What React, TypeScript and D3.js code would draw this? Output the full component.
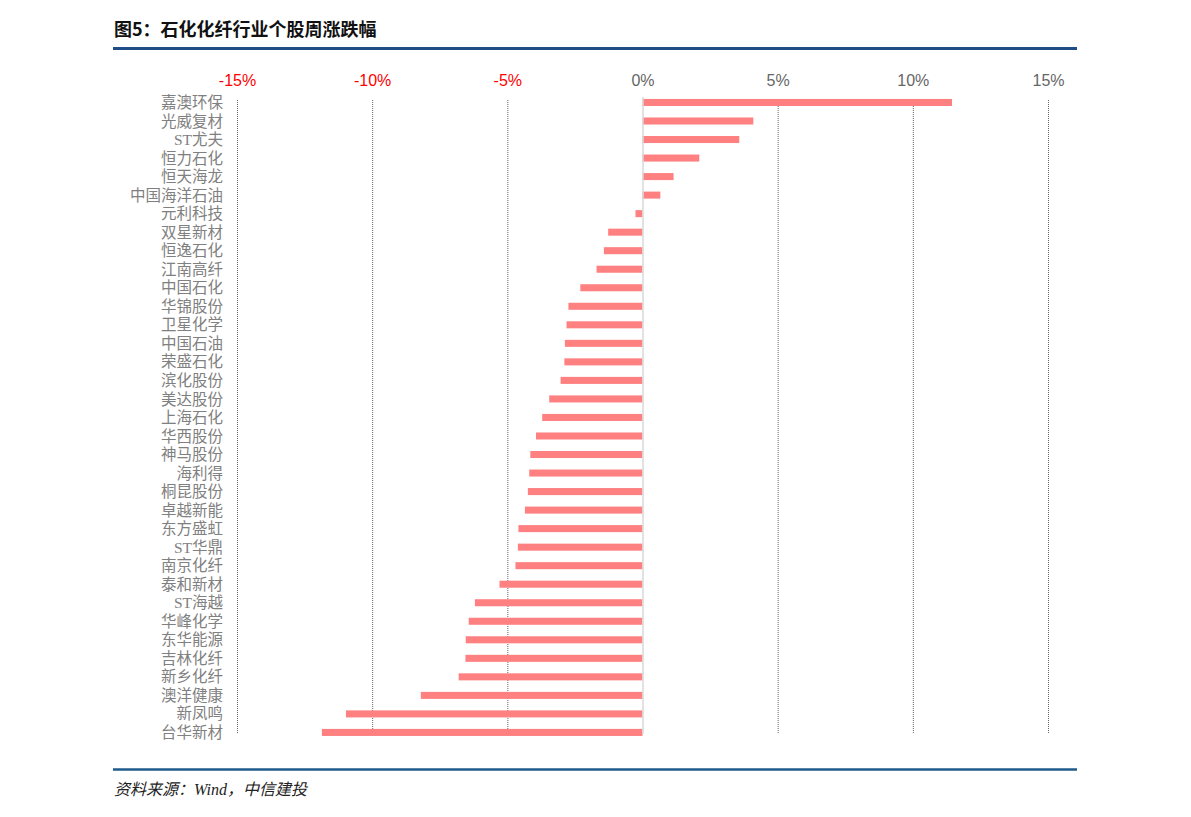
import { useEffect, useRef } from "react";
import * as d3 from "d3";

// 石化化纤行业个股周涨跌幅 (%)
const stocks = [
  "嘉澳环保", "光威复材", "ST尤夫", "恒力石化", "恒天海龙", "中国海洋石油", "元利科技",
  "双星新材", "恒逸石化", "江南高纤", "中国石化", "华锦股份", "卫星化学", "中国石油",
  "荣盛石化", "滨化股份", "美达股份", "上海石化", "华西股份", "神马股份", "海利得",
  "桐昆股份", "卓越新能", "东方盛虹", "ST华鼎", "南京化纤", "泰和新材", "ST海越",
  "华峰化学", "东华能源", "吉林化纤", "新乡化纤", "澳洋健康", "新凤鸣", "台华新材",
];
const weeklyChange = [
  11.45, 4.1, 3.58, 2.1, 1.15, 0.66, -0.26,
  -1.27, -1.43, -1.7, -2.3, -2.74, -2.81, -2.87,
  -2.89, -3.03, -3.45, -3.71, -3.94, -4.15, -4.19,
  -4.24, -4.35, -4.59, -4.61, -4.7, -5.29, -6.2,
  -6.43, -6.54, -6.55, -6.8, -8.2, -10.97, -11.86,
];
const xTicks = [-15, -10, -5, 0, 5, 10, 15];

const title = "图5：石化化纤行业个股周涨跌幅";
const source = "资料来源：Wind，中信建投";

const W = 1191;
const H = 817;

export default function App() {
  const svgRef = useRef<SVGSVGElement>(null);

  useEffect(() => {
    const svg = d3.select(svgRef.current);
    svg.selectAll("*").remove();

    const x = d3.scaleLinear().domain([-15, 15]).range([237, 1048]);
    const y = d3.scaleBand().domain(stocks).range([93.2, 741.7])
      .paddingInner(0.62).paddingOuter(0.31);

    // title + rules
    svg.append("text")
      .attr("x", 114).attr("y", 36)
      .attr("font-family", "'Noto Sans CJK SC', sans-serif")
      .attr("font-weight", "bold").attr("font-size", 18)
      .attr("fill", "#111")
      .text(title);
    svg.append("line")
      .attr("x1", 113).attr("x2", 1077).attr("y1", 48.5).attr("y2", 48.5)
      .attr("stroke", "#1f4e87").attr("stroke-width", 3);
    svg.append("line")
      .attr("x1", 113).attr("x2", 1077).attr("y1", 769.5).attr("y2", 769.5)
      .attr("stroke", "#1f5a8c").attr("stroke-width", 2.5);
    svg.append("text")
      .attr("x", 114).attr("y", 795)
      .attr("font-family", "'Liberation Serif', 'Noto Sans CJK SC', serif")
      .attr("font-style", "italic").attr("font-size", 16)
      .attr("fill", "#222")
      .text(source);

    // grid
    svg.append("g")
      .selectAll("line")
      .data(xTicks.filter((t) => t !== 0))
      .join("line")
      .attr("x1", (d) => x(d) + 0.5).attr("x2", (d) => x(d) + 0.5)
      .attr("y1", 100).attr("y2", 733)
      .attr("stroke", "#666").attr("stroke-width", 1)
      .attr("stroke-dasharray", "1,1");

    // bars
    svg.append("g")
      .selectAll("rect")
      .data(weeklyChange)
      .join("rect")
      .attr("x", (d) => x(Math.min(0, d)))
      .attr("y", (_d, i) => y(stocks[i])!)
      .attr("width", (d) => Math.abs(x(d) - x(0)))
      .attr("height", y.bandwidth())
      .attr("fill", "#ff8080");

    // zero line
    svg.append("line")
      .attr("x1", x(0) + 0.5).attr("x2", x(0) + 0.5)
      .attr("y1", 97).attr("y2", 734)
      .attr("stroke", "#d9d9d9").attr("stroke-width", 1.5);

    // top axis labels
    const axis = d3.axisTop(x).tickValues(xTicks).tickSize(0).tickPadding(0)
      .tickFormat((d) => `${d}%`);
    const ax = svg.append("g").attr("transform", "translate(0,86)").call(axis);
    ax.select(".domain").remove();
    ax.selectAll("text")
      .attr("font-family", "'Liberation Sans', Arial, sans-serif")
      .attr("font-size", 16)
      .attr("fill", (d: any) => (d < 0 ? "#ff0000" : "#666"));

    // category labels
    svg.append("g")
      .selectAll("text")
      .data(stocks)
      .join("text")
      .attr("x", 223)
      .attr("y", (d) => y(d)! + y.bandwidth() / 2)
      .attr("dy", "0.36em")
      .attr("text-anchor", "end")
      .attr("font-family", "'Liberation Serif', 'Noto Sans CJK SC', serif")
      .attr("font-size", 15.5)
      .attr("fill", "#808080")
      .text((d) => d);
  }, []);

  return (
    <svg
      ref={svgRef}
      width={W}
      height={H}
      style={{ position: "absolute", left: 0, top: 0, background: "#fff" }}
    />
  );
}
